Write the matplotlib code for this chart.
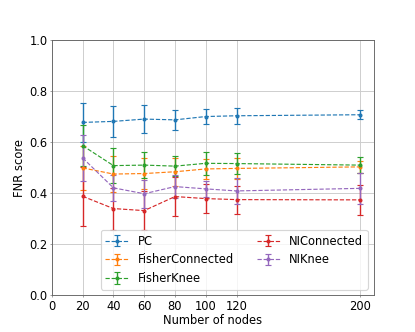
import matplotlib.pyplot as plt

nodes = [20, 40, 60, 80, 100, 120, 200]
methods = ["PC", "FisherConnected", "FisherKnee", "NIConnected", "NIKnee"]

# mean FNR per method
pc_mean = [0.677, 0.681, 0.690, 0.687, 0.700, 0.703, 0.707]
fisher_conn_mean = [0.499, 0.475, 0.477, 0.484, 0.495, 0.497, 0.503]
fisher_knee_mean = [0.586, 0.508, 0.510, 0.506, 0.517, 0.516, 0.510]
ni_conn_mean = [0.388, 0.340, 0.332, 0.387, 0.379, 0.375, 0.374]
ni_knee_mean = [0.538, 0.421, 0.398, 0.426, 0.417, 0.409, 0.419]

# standard deviations
pc_std = [0.077, 0.060, 0.056, 0.040, 0.029, 0.032, 0.018]
fisher_conn_std = [0.085, 0.070, 0.060, 0.055, 0.040, 0.040, 0.022]
fisher_knee_std = [0.080, 0.068, 0.052, 0.038, 0.045, 0.040, 0.030]
ni_conn_std = [0.116, 0.082, 0.075, 0.075, 0.056, 0.055, 0.058]
ni_knee_std = [0.090, 0.050, 0.055, 0.045, 0.030, 0.050, 0.062]

means = [pc_mean, fisher_conn_mean, fisher_knee_mean, ni_conn_mean, ni_knee_mean]
stds = [pc_std, fisher_conn_std, fisher_knee_std, ni_conn_std, ni_knee_std]

fig, ax = plt.subplots(1, 1, figsize=(5, 4), dpi=83)

for name, m, s in zip(methods, means, stds):
    ax.errorbar(
        nodes,
        m,
        yerr=s,
        fmt="--",
        marker=".",
        markersize=5,
        linewidth=1,
        elinewidth=1.2,
        capsize=2.5,
        label=name,
    )

ax.set_xlim(left=0)
ax.set_ylim(0, 1)
ax.set_xticks([0, 20, 40, 60, 80, 100, 120, 200])
ax.set_xlabel("Number of nodes", labelpad=1)
ax.set_ylabel("FNR score", labelpad=3)
ax.grid(True, color="#cccccc")
ax.tick_params(length=2, pad=1.5, color="#999999")
for sp in ax.spines.values():
    sp.set_color("#666666")
ax.legend(ncol=2, loc="lower right")

fig.savefig("out.png", dpi=83)
